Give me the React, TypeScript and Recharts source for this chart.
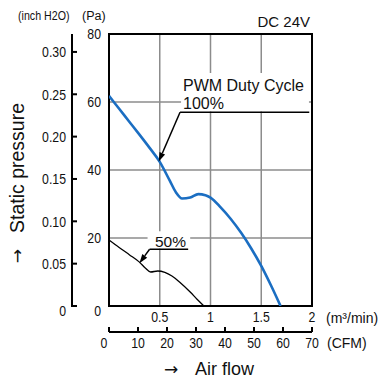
import React from "react";
import {
  LineChart,
  Line,
  XAxis,
  YAxis,
  CartesianGrid,
  ReferenceArea,
  ReferenceLine,
} from "recharts";

// airflow (m3/min) vs static pressure (Pa)
const flow100 = [0, 0.1, 0.2, 0.3, 0.4, 0.5, 0.6, 0.66, 0.72, 0.8, 0.88, 0.95, 1.0, 1.1, 1.2, 1.3, 1.4, 1.5, 1.6, 1.69];
const press100 = [61.8, 58.0, 54.2, 50.4, 46.5, 42.4, 36.8, 33.4, 31.6, 31.9, 32.9, 32.6, 31.9, 29.0, 25.6, 21.6, 17.0, 11.8, 5.8, 0];

const flow50 = [0, 0.1, 0.2, 0.3, 0.36, 0.41, 0.48, 0.55, 0.62, 0.7, 0.8, 0.87, 0.935];
const press50 = [19.4, 17.2, 15.1, 12.9, 11.1, 10.0, 10.3, 9.9, 8.8, 6.9, 4.1, 1.9, 0];

const paTicks = [0, 20, 40, 60, 80];
const inchTicks = [0, 0.05, 0.1, 0.15, 0.2, 0.25, 0.3];
const m3Ticks = [0.5, 1, 1.5, 2];
const cfmTicks = [0, 10, 20, 30, 40, 50, 60, 70];

const PA_PER_INCH = 249.09;

// plot box (matches the chart margins + axis sizes below)
const TOP = 34;
const BOTTOM = 306;
const SPINE_X = 71;
const paToY = (pa: number) => BOTTOM - (pa / 80) * (BOTTOM - TOP);

const data100 = flow100.map((f, i) => ({ flow: f, p: press100[i] }));
const data50 = flow50.map((f, i) => ({ flow: f, p: press50[i] }));

const SANS = "'Liberation Sans', Arial, sans-serif";
const INK = "#111";

// condensed look: Liberation Sans squeezed horizontally
function NText({ x, y, anchor = "middle", size = 15, children }: any) {
  return (
    <text transform={`translate(${x},${y}) scale(0.82,1)`} dy="0.36em" textAnchor={anchor}
      fontFamily={SANS} fontSize={size} fill={INK}>
      {children}
    </text>
  );
}

function PaTick({ x, y, payload }: any) {
  return <NText x={x - 8} y={y + (payload.value === 0 ? 5 : 0)} anchor="end">{payload.value}</NText>;
}

function InchTick({ x, y, payload }: any) {
  const v = payload.value;
  return <NText x={x - 6} y={y + (v === 0 ? 5 : 0)} anchor="end">{v === 0 ? "0" : v.toFixed(2)}</NText>;
}

function M3Tick({ x, y, payload }: any) {
  return <NText x={x} y={y + 11}>{payload.value}</NText>;
}

function CfmTick({ x, y, payload }: any) {
  return (
    <g>
      <line x1={x} y1={y} x2={x} y2={y - 5} stroke="#000" strokeWidth={2} />
      <NText x={x - (payload.value === 0 ? 5 : 0)} y={y + 11}>{payload.value}</NText>
    </g>
  );
}

// leader line, optionally with a filled arrowhead at the second point
function Leader(props: any) {
  const { x1, y1, x2, y2, head } = props;
  if (!head) {
    return <line x1={x1} y1={y1} x2={x2} y2={y2} stroke="#000" strokeWidth={1.5} />;
  }
  const a = Math.atan2(y2 - y1, x2 - x1);
  const L = 9;
  const W = 3;
  const bx = x2 - L * Math.cos(a);
  const by = y2 - L * Math.sin(a);
  const px = -Math.sin(a) * W;
  const py = Math.cos(a) * W;
  return (
    <g>
      <line x1={x1} y1={y1} x2={bx} y2={by} stroke="#000" strokeWidth={1.5} />
      <polygon points={`${x2},${y2} ${bx + px},${by + py} ${bx - px},${by - py}`} fill="#000" />
    </g>
  );
}

export default function App() {
  return (
    <div style={{ position: "absolute", left: 0, top: 0, width: 384, height: 378, background: "#fff" }}>
      <LineChart width={384} height={378} data={data100} margin={{ top: TOP, right: 72, left: 35, bottom: 26 }}>
        <CartesianGrid xAxisId="a_m3" yAxisId="a_pa" stroke="#8c8c8c" strokeWidth={1.5} />
        <XAxis xAxisId="b_cfm" dataKey="flow" type="number" domain={[0, 70]} ticks={cfmTicks}
          axisLine={{ stroke: "#000", strokeWidth: 2 }} tickLine={false} tickSize={0} tickMargin={0}
          height={20} tick={<CfmTick />} interval={0} allowDataOverflow />
        <XAxis xAxisId="a_m3" dataKey="flow" type="number" domain={[0, 2]} ticks={m3Ticks}
          axisLine={false} tickLine={false} tickSize={0} tickMargin={0} height={26}
          tick={<M3Tick />} interval={0} allowDataOverflow />
        <YAxis yAxisId="b_in" type="number" domain={[0, 80 / PA_PER_INCH]} ticks={inchTicks} width={37}
          axisLine={false} tickLine={false} tickSize={0} tickMargin={0}
          tick={<InchTick />} interval={0} allowDataOverflow />
        <YAxis yAxisId="a_pa" type="number" domain={[0, 80]} ticks={paTicks} width={37}
          axisLine={false} tickLine={false} tickSize={0} tickMargin={0} tick={<PaTick />}
          interval={0} allowDataOverflow />

        {/* white boxes behind the annotation labels */}
        <ReferenceArea xAxisId="a_m3" yAxisId="a_pa" x1={0.71} x2={1.97} y1={57.2} y2={68.5}
          fill="#fff" fillOpacity={1} stroke="none" />
        <ReferenceArea xAxisId="a_m3" yAxisId="a_pa" x1={0.38} x2={0.8} y1={16.9} y2={22}
          fill="#fff" fillOpacity={1} stroke="none" />
        <ReferenceArea xAxisId="a_m3" yAxisId="a_pa" x1={0} x2={2} y1={0} y2={80}
          fill="none" stroke="#000" strokeWidth={2} />

        <Line xAxisId="a_m3" yAxisId="a_pa" data={data50} dataKey="p" type="monotone"
          stroke="#000" strokeWidth={1.3} dot={false} isAnimationActive={false} />
        <Line xAxisId="a_m3" yAxisId="a_pa" data={data100} dataKey="p" type="monotone"
          stroke="#1b6ec2" strokeWidth={2.6} dot={false} isAnimationActive={false} />

        <ReferenceLine xAxisId="a_m3" yAxisId="a_pa" segment={[{ x: 1.973, y: 57.0 }, { x: 0.7, y: 57.0 }]}
          shape={(p: any) => <Leader {...p} />} />
        <ReferenceLine xAxisId="a_m3" yAxisId="a_pa" segment={[{ x: 0.7, y: 57.0 }, { x: 0.49, y: 42.5 }]}
          shape={(p: any) => <Leader {...p} head />} />
        <ReferenceLine xAxisId="a_m3" yAxisId="a_pa" segment={[{ x: 0.78, y: 16.7 }, { x: 0.4, y: 16.7 }]}
          shape={(p: any) => <Leader {...p} />} />
        <ReferenceLine xAxisId="a_m3" yAxisId="a_pa" segment={[{ x: 0.4, y: 16.7 }, { x: 0.3, y: 12.6 }]}
          shape={(p: any) => <Leader {...p} head />} />
      </LineChart>

      <svg width={384} height={378} style={{ position: "absolute", left: 0, top: 0, pointerEvents: "none" }}>
        {/* inch H2O scale spine and ticks */}
        <rect x={SPINE_X} y={TOP} width={2} height={BOTTOM - TOP + 1} fill="#000" />
        {inchTicks.map((v) => (
          <rect key={v} x={SPINE_X} y={paToY(v * PA_PER_INCH) - 1} width={6} height={2} fill="#000" />
        ))}
        <g fill={INK}>
          <NText x={18} y={15} anchor="start" size={13}>(inch H2O)</NText>
          <text x={82} y={15} dy="0.36em" fontFamily={SANS} fontSize={12.5}>(Pa)</text>
          <text x={310} y={22} dy="0.36em" textAnchor="end" fontFamily={SANS} fontSize={15}>DC 24V</text>
          <text x={183} y={85} dy="0.36em" fontFamily={SANS} fontSize={16}>PWM Duty Cycle</text>
          <text x={183} y={103} dy="0.36em" fontFamily={SANS} fontSize={16}>100%</text>
          <text x={155} y={241} dy="0.36em" fontFamily={SANS} fontSize={15.5}>50%</text>
          <text x={326} y={318} dy="0.36em" fontFamily={SANS} fontSize={14}>(m³/min)</text>
          <text x={327} y={343} dy="0.36em" fontFamily={SANS} fontSize={14}>(CFM)</text>
          <text x={164} y={369} dy="0.36em" fontFamily="'DejaVu Sans', sans-serif" fontSize={17}>→</text>
          <text x={195} y={369} dy="0.36em" fontFamily={SANS} fontSize={18}>Air flow</text>
          <text transform="translate(17,256) rotate(-90)" dy="0.36em" textAnchor="middle"
            fontFamily="'DejaVu Sans', sans-serif" fontSize={17}>→</text>
          <text transform="translate(17,168) rotate(-90)" dy="0.36em" textAnchor="middle"
            fontFamily={SANS} fontSize={19.5}>Static pressure</text>
        </g>
      </svg>
    </div>
  );
}
